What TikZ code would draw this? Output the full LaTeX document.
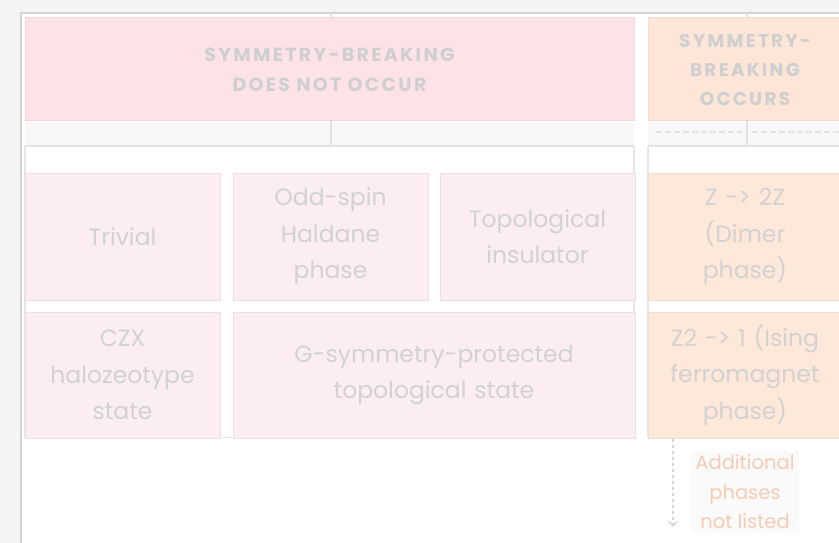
\documentclass[tikz,border=0pt]{standalone}
\usepackage{fontspec}
\setmainfont{Poppins}
\newfontfamily\headfont[LetterSpace=12]{Poppins}
\usetikzlibrary{arrows.meta}

\definecolor{outerbg}{HTML}{F4F4F4}
\definecolor{panelline}{HTML}{D4D4D4}
\definecolor{bandfill}{HTML}{F8F8F8}
\definecolor{bandline}{HTML}{E2E2E2}
\definecolor{grpline}{HTML}{E6E6E6}
\definecolor{pinkhd}{HTML}{FDE3E8}
\definecolor{pinkhdline}{HTML}{F3D6DC}
\definecolor{pinkbx}{HTML}{FCEDF0}
\definecolor{pinkbxline}{HTML}{EEDDE1}
\definecolor{peachhd}{HTML}{FDE6D8}
\definecolor{peachbx}{HTML}{FDE8DA}
\definecolor{peachline}{HTML}{F1DCCF}
\definecolor{headtext}{HTML}{CFCFCF}
\definecolor{bodytext}{HTML}{D2D2D2}
\definecolor{notetext}{HTML}{F7CBB3}
\definecolor{notefill}{HTML}{FAFAFA}
\definecolor{arrowgray}{HTML}{D6D6D6}

\tikzset{
  headbase/.style={draw, line width=1pt, inner sep=0pt, align=center,
    text=headtext, font=\headfont\bfseries\fontsize{19}{30}\selectfont},
  pinkhead/.style={headbase, fill=pinkhd, draw=pinkhdline},
  peachhead/.style={headbase, fill=peachhd, draw=peachline,
    font=\headfont\bfseries\fontsize{18.5}{29}\selectfont},
  cellbase/.style={draw, line width=1pt, inner sep=0pt, align=center,
    text=bodytext, font=\fontsize{23.5}{36.5}\selectfont},
  pinkcell/.style={cellbase, fill=pinkbx, draw=pinkbxline},
  peachcell/.style={cellbase, fill=peachbx, draw=peachline},
  group/.style={draw=grpline, line width=1.2pt, fill=white},
  conn/.style={draw=bandline, line width=1.5pt},
}

\begin{document}
\begin{tikzpicture}[x=1pt,y=-1pt]
\useasboundingbox (0,0) rectangle (839,543);
\clip (0,0) rectangle (839,543);

% page background and white panel
\fill[outerbg] (0,0) rectangle (839,543);
\draw[panelline, fill=white, line width=1.6pt] (20.8,12.8) rectangle (870,580);

% header boxes
\node[pinkhead, minimum width=609pt, minimum height=103pt] (hdrL) at (329.5,69.5)
  {SYMMETRY-BREAKING\\DOES NOT OCCUR};
\node[peachhead, minimum width=194pt, minimum height=103pt] (hdrR) at (745,69.5)
  {SYMMETRY-\\BREAKING\\OCCURS};

% connectors from the parent level down to the headers
\coordinate (topL) at (331,13);
\coordinate (topR) at (747,13);
\draw[conn] (topL) -- (topL |- hdrL.north);
\draw[conn] (topR) -- (topR |- hdrR.north);

% band between the headers and the phase groups
\fill[bandfill] (25,122) rectangle (634,145);
\fill[bandfill] (648,122) rectangle (842,145);
\draw[bandline, line width=1.5pt] (25,145.5) -- (634,145.5);
\draw[bandline, line width=1.5pt] (648,145.5) -- (842,145.5);
\draw[bandline, line width=2pt, dash pattern=on 6pt off 3pt] (656,132) -- (742,132);
\draw[bandline, line width=2pt, dash pattern=on 6pt off 3pt] (752,132) -- (839,132);

% group containers
\node[group, minimum width=609pt, minimum height=291pt, inner sep=0pt] (grpL) at (329.5,292) {};
\node[group, minimum width=194pt, minimum height=291pt, inner sep=0pt] (grpR) at (745,292) {};

\draw[conn] (topL |- hdrL.south) -- (topL |- grpL.north);
\draw[conn] (topR |- hdrR.south) -- (topR |- grpR.north);

% first row of phases
\node[pinkcell, minimum width=195pt, minimum height=127pt, text width=190pt] (triv) at (122.5,236.5) {Trivial};
\node[pinkcell, minimum width=195pt, minimum height=127pt, text width=190pt] (hald) at (330.5,236.5) {Odd-spin\\Haldane\\phase};
\node[pinkcell, minimum width=195pt, minimum height=127pt, text width=190pt] (tins) at (537.5,236.5) {Topological\\insulator};
\node[peachcell, minimum width=194pt, minimum height=127pt, text width=190pt] (dimer) at (745,236.5) {Z -> 2Z\\(Dimer\\phase)};

% second row of phases
\node[pinkcell, minimum width=195pt, minimum height=126pt, text width=190pt] (czx) at (122.5,375) {CZX\\halozeotype\\state};
\node[pinkcell, minimum width=402pt, minimum height=126pt, text width=390pt] (gspt) at (434,375) {G-symmetry-protected\\topological state};
\node[peachcell, minimum width=194pt, minimum height=126pt, text width=190pt] (ising) at (745,375) {Z2 -> 1 (Ising\\ferromagnet\\phase)};

% note on further phases
\node[fill=notefill, inner sep=4pt, align=center, text=notetext,
      font=\fontsize{19.5}{29.5}\selectfont] (more) at (745,492) {Additional\\phases\\not listed};
\coordinate (tail) at (673,527);
\draw[draw=arrowgray, line width=1.3pt, dash pattern=on 3pt off 3pt,
      -{Straight Barb[length=5pt,width=9pt]}] (ising.south -| tail) -- (tail);

\end{tikzpicture}
\end{document}
